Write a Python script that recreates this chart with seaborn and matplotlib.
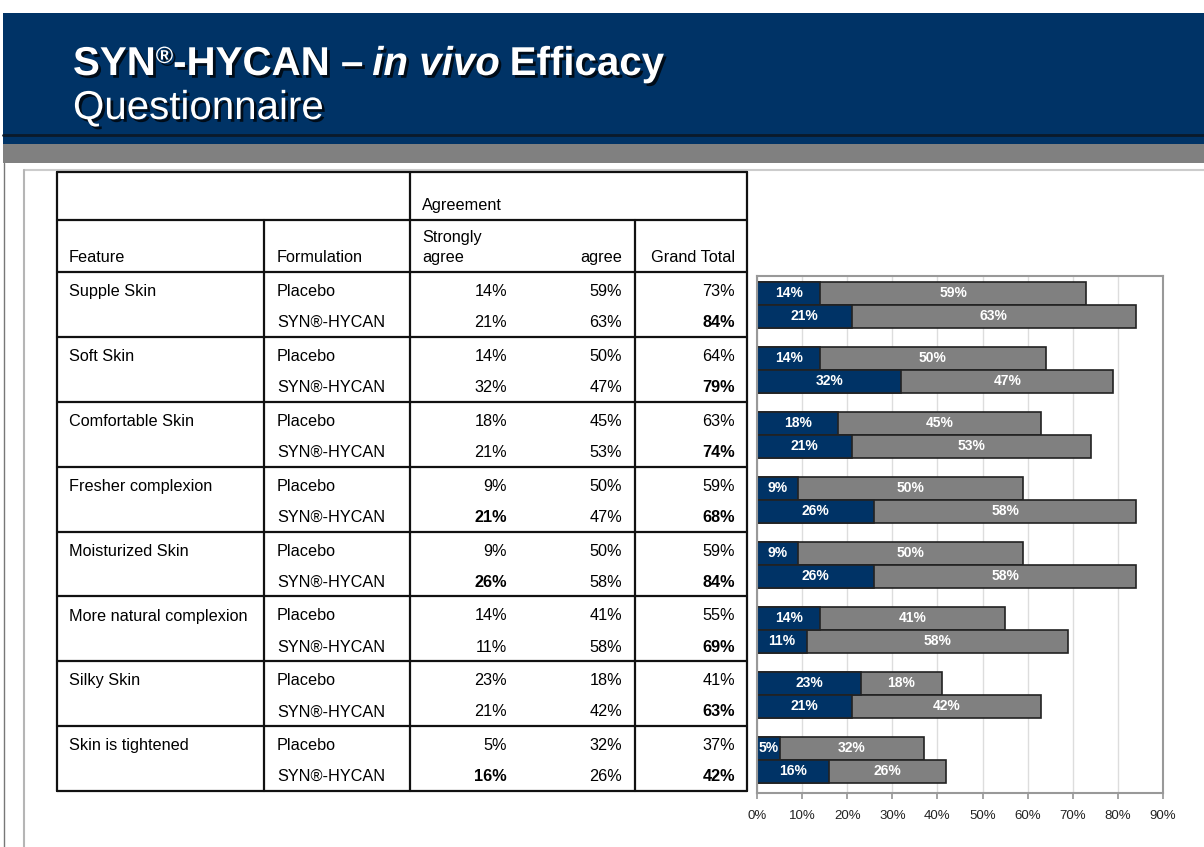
import matplotlib
matplotlib.use("Agg")
import numpy as np
import pandas as pd
import matplotlib.pyplot as plt
import matplotlib.patheffects as pe
from matplotlib.patches import Rectangle
import seaborn as sns

features = ["Supple Skin", "Soft Skin", "Comfortable Skin", "Fresher complexion",
            "Moisturized Skin", "More natural complexion", "Silky Skin", "Skin is tightened"]
formulations = ["Placebo", "SYN®-HYCAN"]

# table values (%)
placebo_strong = [14, 14, 18, 9, 9, 14, 23, 5]
placebo_agree = [59, 50, 45, 50, 50, 41, 18, 32]
placebo_total = [73, 64, 63, 59, 59, 55, 41, 37]
syn_strong = [21, 32, 21, 21, 26, 11, 21, 16]
syn_agree = [63, 47, 53, 47, 58, 58, 42, 26]
syn_total = [84, 79, 74, 68, 84, 69, 63, 42]
syn_strong_bold = [False, False, False, True, True, False, False, True]

# values as labelled on the bars
bar_placebo_strong = [14, 14, 18, 9, 9, 14, 23, 5]
bar_placebo_agree = [59, 50, 45, 50, 50, 41, 18, 32]
bar_syn_strong = [21, 32, 21, 26, 26, 11, 21, 16]
bar_syn_agree = [63, 47, 53, 58, 58, 58, 42, 26]
x_ticks = [0, 10, 20, 30, 40, 50, 60, 70, 80, 90]

NAVY = "#003366"
GREY = "#808080"

sns.set_theme(style="white")
plt.rcParams["font.family"] = ["Liberation Sans", "DejaVu Sans"]
plt.rcParams["text.color"] = "black"

fig = plt.figure(figsize=(12.04, 8.47), dpi=100)

# overlay in pixel coordinates for slide decoration + table
deco = fig.add_axes([0, 0, 1, 1])
deco.set_xlim(0, 1204)
deco.set_ylim(847, 0)
deco.axis("off")

deco.add_patch(Rectangle((3, 13), 1201, 131, color=NAVY, lw=0))
deco.plot([3, 1204], [135, 135], color="#0b1a2a", lw=2)
deco.add_patch(Rectangle((3, 144), 1201, 19, color=GREY, lw=0))
deco.plot([24, 1204], [170, 170], color="#cccccc", lw=1.5)
deco.plot([24, 24], [170, 847], color="#b5b5b5", lw=1.5)
deco.plot([4, 4], [163, 847], color="#777777", lw=1)

# title, built from pieces
shadow = [pe.SimplePatchShadow(offset=(2, -2), shadow_rgbFace="black", alpha=0.75), pe.Normal()]
renderer = fig.canvas.get_renderer()
pieces = [("SYN", dict(weight="bold", size=29), 0, 0),
          ("®", dict(weight="bold", size=17), 0, -12),
          ("-HYCAN –", dict(weight="bold", size=29), 0, 0),
          ("in vivo", dict(weight="bold", style="italic", size=29), 9, 0),
          ("Efficacy", dict(weight="bold", size=29), 10, 0)]
x = 73
for txt, kw, gap, dy in pieces:
    x += gap
    t = deco.text(x, 75 + dy, txt, color="white", va="baseline", ha="left",
                  path_effects=shadow, **kw)
    x += t.get_window_extent(renderer).width
deco.text(73, 119, "Questionnaire", color="white", size=29, va="baseline",
          path_effects=shadow)

# table
LC = "#111111"
row_tops = [272 + 64.9 * i for i in range(9)]
for y in [172, 220] + row_tops:
    deco.plot([57, 747], [y, y], color=LC, lw=1.6)
for xv in [57, 410, 747]:
    deco.plot([xv, xv], [172, 791], color=LC, lw=1.6)
for xv in [264, 635]:
    deco.plot([xv, xv], [220, 791], color=LC, lw=1.6)

fs = 11.7
tk = dict(size=fs, va="baseline", color="black")
deco.text(422, 210, "Agreement", **tk)
deco.text(69, 262, "Feature", **tk)
deco.text(277, 262, "Formulation", **tk)
deco.text(422, 242, "Strongly", **tk)
deco.text(422, 262, "agree", **tk)
deco.text(622, 262, "agree", ha="right", **tk)
deco.text(735, 262, "Grand Total", ha="right", **tk)

for i, feat in enumerate(features):
    top = row_tops[i]
    yp, ys = top + 24, top + 55
    deco.text(69, yp, feat, **tk)
    deco.text(277, yp, formulations[0], **tk)
    deco.text(277, ys, formulations[1], **tk)
    deco.text(507, yp, f"{placebo_strong[i]}%", ha="right", **tk)
    deco.text(622, yp, f"{placebo_agree[i]}%", ha="right", **tk)
    deco.text(735, yp, f"{placebo_total[i]}%", ha="right", **tk)
    deco.text(507, ys, f"{syn_strong[i]}%", ha="right",
              weight="bold" if syn_strong_bold[i] else "normal", **tk)
    deco.text(622, ys, f"{syn_agree[i]}%", ha="right", **tk)
    deco.text(735, ys, f"{syn_total[i]}%", ha="right", weight="bold", **tk)

# bar chart
df = pd.DataFrame({
    "Feature": features * 2,
    "Formulation": [formulations[0]] * 8 + [formulations[1]] * 8,
    "Strong": bar_placebo_strong + bar_syn_strong,
    "Agree": bar_placebo_agree + bar_syn_agree,
})
df["Total"] = df["Strong"] + df["Agree"]

ax = fig.add_axes([757 / 1204, 1 - 793 / 847, 406 / 1204, 517 / 847])
sns.barplot(data=df, y="Feature", x="Total", hue="Formulation", order=features,
            hue_order=formulations, palette=[GREY, GREY], orient="h", width=0.71,
            saturation=1, edgecolor="#222222", linewidth=1.2, legend=False, ax=ax)
sns.barplot(data=df, y="Feature", x="Strong", hue="Formulation", order=features,
            hue_order=formulations, palette=[NAVY, NAVY], orient="h", width=0.71,
            saturation=1, edgecolor="#222222", linewidth=1.2, legend=False, ax=ax)

lab = dict(color="white", weight="bold", size=10, ha="center", va="center")
for k in range(2):
    for bar_tot, bar_str in zip(ax.containers[k], ax.containers[k + 2]):
        yc = bar_str.get_y() + bar_str.get_height() / 2
        s = bar_str.get_width()
        t = bar_tot.get_width()
        ax.text(s / 2, yc, f"{s:.0f}%", **lab)
        ax.text(s + (t - s) / 2, yc, f"{t - s:.0f}%", **lab)

ax.set_xlim(0, 90)
ax.set_ylim(7.51, -0.44)
ax.set_xticks(x_ticks)
ax.set_xticklabels([f"{v}%" for v in x_ticks], fontsize=9.5, color="#222222")
ax.set_yticks([])
ax.set_xlabel("")
ax.set_ylabel("")
ax.xaxis.grid(True, color="#dddddd", lw=1)
ax.set_axisbelow(True)
ax.tick_params(axis="x", bottom=True, length=4, color="#999999", pad=8)
for sp in ax.spines.values():
    sp.set_color("#999999")
    sp.set_linewidth(1.5)

fig.savefig("out.png", dpi=100)
